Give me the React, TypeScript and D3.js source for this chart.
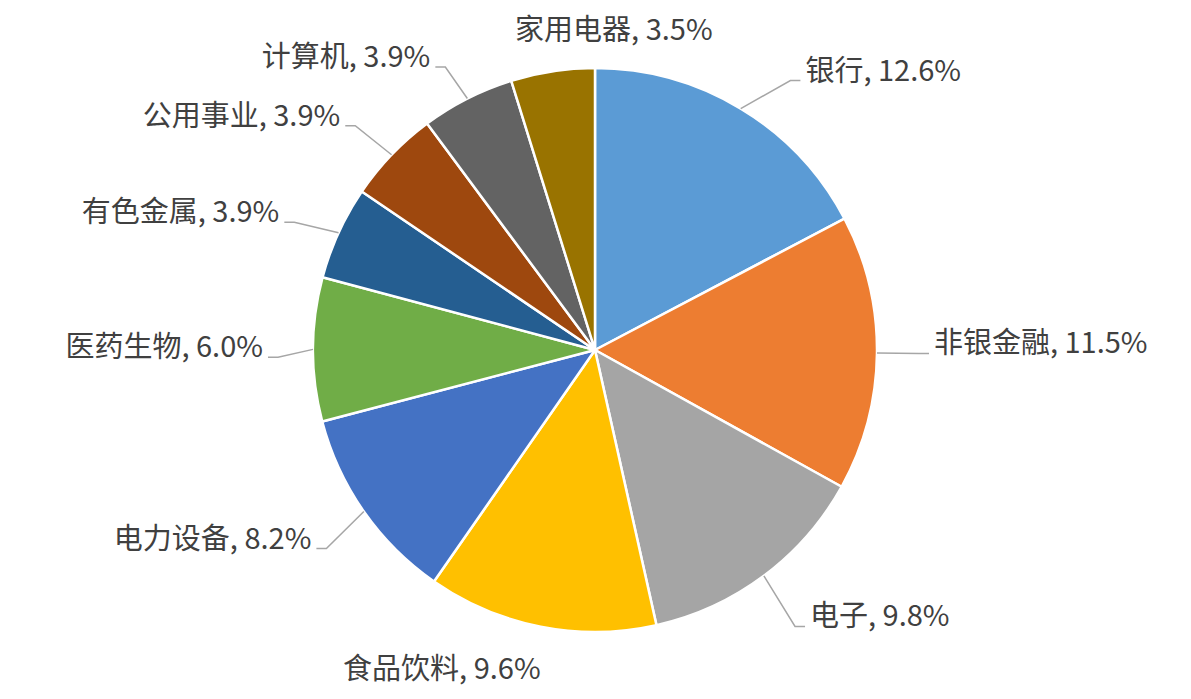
import React from 'react';
import * as d3 from 'd3';

const categories = ['银行', '非银金融', '电子', '食品饮料', '电力设备', '医药生物', '有色金属', '公用事业', '计算机', '家用电器'];
const shares = [12.6, 11.5, 9.8, 9.6, 8.2, 6.0, 3.9, 3.9, 3.9, 3.5];
const palette = ['#5B9BD5', '#ED7D31', '#A5A5A5', '#FFC000', '#4472C4', '#70AD47', '#255E91', '#9E480E', '#636363', '#997300'];

const width = 1191;
const height = 699;
const cx = 595;
const cy = 350;
const radius = 282;
const fontSize = 29;

// labels were dragged by hand in the original workbook
const labelShift: Record<string, [number, number]> = {
  '银行': [28, 8],
  '电子': [6, 17],
  '电力设备': [-3, 13],
  '医药生物': [7, 8],
  '有色金属': [-6, 7],
  '公用事业': [-6, 0],
  '计算机': [-3, 6],
  '家用电器': [160, 0],
};

const polar = (a: number, r: number): [number, number] => [cx + r * Math.sin(a), cy - r * Math.cos(a)];

const App: React.FC = () => {
  const pie = d3.pie<number>().value(d => d).sort(null);
  const arcs = pie(shares);
  const arc = d3.arc<d3.PieArcDatum<number>>().innerRadius(0).outerRadius(radius);

  const labels = arcs.map((d, i) => {
    const name = categories[i];
    const mid = (d.startAngle + d.endAngle) / 2;
    const text = `${name}, ${d.data.toFixed(1)}%`;
    const [sx, sy] = labelShift[name] || [0, 0];
    const edge = polar(mid, radius);
    if (Math.abs(Math.sin(mid)) > 0.4) {
      const dir = Math.sin(mid) > 0 ? 1 : -1;
      const elbow = polar(mid, radius + 42);
      elbow[0] += sx;
      elbow[1] += sy;
      const end: [number, number] = [elbow[0] + dir * 10, elbow[1]];
      return {
        text,
        x: end[0] + dir * 5,
        y: elbow[1],
        anchor: dir > 0 ? 'start' : 'end',
        leader: d3.line()([edge, elbow, end]),
      };
    }
    const top = Math.cos(mid) > 0;
    return {
      text,
      x: edge[0] + sx,
      y: top ? edge[1] - 31 + sy : edge[1] + 52 + sy,
      anchor: Math.sin(mid) > 0 ? 'start' : 'end',
      leader: null,
    };
  });

  return (
    <svg width={width} height={height} style={{ position: 'absolute', left: 0, top: 0, background: '#fff' }}>
      <g>
        {arcs.map((d, i) => (
          <path key={categories[i]} d={arc(d) || ''} transform={`translate(${cx},${cy})`}
            fill={palette[i]} stroke="#fff" strokeWidth={2.5} strokeLinejoin="round" />
        ))}
      </g>
      <g>
        {labels.map(l => l.leader && (
          <path key={l.text} d={l.leader} fill="none" stroke="#A6A6A6" strokeWidth={1.5} />
        ))}
      </g>
      <g fontFamily="'Noto Sans CJK SC', 'Noto Sans', sans-serif" fontSize={fontSize} fill="#404040">
        {labels.map(l => (
          <text key={l.text} x={l.x} y={l.y} textAnchor={l.anchor}>{l.text}</text>
        ))}
      </g>
    </svg>
  );
};

export default App;
